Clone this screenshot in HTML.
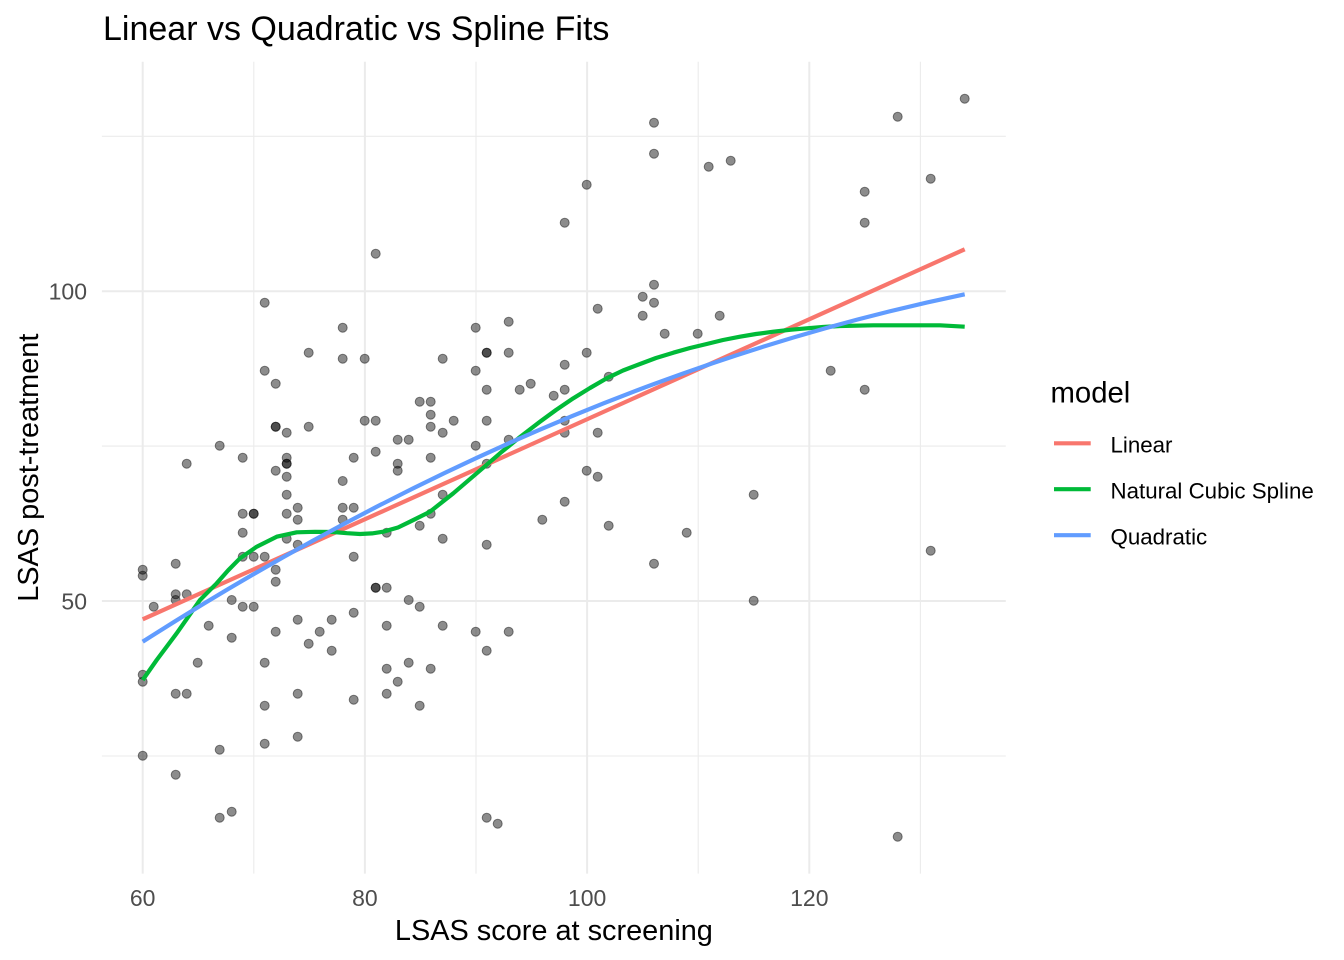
<!DOCTYPE html>
<html>
<head>
<meta charset="utf-8">
<style>
html,body{margin:0;padding:0;background:#fff;}
svg{display:block;}
text{font-family:"Liberation Sans",Arial,sans-serif;}
</style>
</head>
<body>
<svg width="1344" height="960" viewBox="0 0 1344 960" xmlns="http://www.w3.org/2000/svg">
<rect width="1344" height="960" fill="#fff"/>
<g stroke="#ebebeb" stroke-width="1.1">
<line x1="101.9" x2="1005.8" y1="136.3" y2="136.3"/>
<line x1="101.9" x2="1005.8" y1="446.1" y2="446.1"/>
<line x1="101.9" x2="1005.8" y1="756" y2="756"/>
<line y1="61.7" y2="873.6" x1="253.8" x2="253.8"/>
<line y1="61.7" y2="873.6" x1="476" x2="476"/>
<line y1="61.7" y2="873.6" x1="698.2" x2="698.2"/>
<line y1="61.7" y2="873.6" x1="920.4" x2="920.4"/>
</g>
<g stroke="#ebebeb" stroke-width="2">
<line x1="101.9" x2="1005.8" y1="291.2" y2="291.2"/>
<line x1="101.9" x2="1005.8" y1="601" y2="601"/>
<line y1="61.7" y2="873.6" x1="142.7" x2="142.7"/>
<line y1="61.7" y2="873.6" x1="364.9" x2="364.9"/>
<line y1="61.7" y2="873.6" x1="587.1" x2="587.1"/>
<line y1="61.7" y2="873.6" x1="809.3" x2="809.3"/>
</g>
<g fill="#000" fill-opacity="0.45" stroke="#000" stroke-opacity="0.45" stroke-width="1">
<circle cx="375.7" cy="253.7" r="4.5"/>
<circle cx="264.7" cy="302.7" r="4.5"/>
<circle cx="342.7" cy="327.7" r="4.5"/>
<circle cx="308.7" cy="352.7" r="4.5"/>
<circle cx="342.7" cy="358.7" r="4.5"/>
<circle cx="364.7" cy="358.7" r="4.5"/>
<circle cx="442.7" cy="358.7" r="4.5"/>
<circle cx="475.7" cy="327.7" r="4.5"/>
<circle cx="508.7" cy="321.7" r="4.5"/>
<circle cx="486.7" cy="352.7" r="4.5"/>
<circle cx="486.7" cy="352.7" r="4.5"/>
<circle cx="508.7" cy="352.7" r="4.5"/>
<circle cx="264.7" cy="370.7" r="4.5"/>
<circle cx="275.7" cy="383.7" r="4.5"/>
<circle cx="475.7" cy="370.7" r="4.5"/>
<circle cx="486.7" cy="389.7" r="4.5"/>
<circle cx="519.7" cy="389.7" r="4.5"/>
<circle cx="530.7" cy="383.7" r="4.5"/>
<circle cx="419.7" cy="401.7" r="4.5"/>
<circle cx="430.7" cy="401.7" r="4.5"/>
<circle cx="430.7" cy="414.7" r="4.5"/>
<circle cx="364.7" cy="420.7" r="4.5"/>
<circle cx="375.7" cy="420.7" r="4.5"/>
<circle cx="453.7" cy="420.7" r="4.5"/>
<circle cx="486.7" cy="420.7" r="4.5"/>
<circle cx="275.7" cy="426.7" r="4.5"/>
<circle cx="275.7" cy="426.7" r="4.5"/>
<circle cx="286.7" cy="432.7" r="4.5"/>
<circle cx="308.7" cy="426.7" r="4.5"/>
<circle cx="430.7" cy="426.7" r="4.5"/>
<circle cx="442.7" cy="432.7" r="4.5"/>
<circle cx="397.7" cy="439.7" r="4.5"/>
<circle cx="408.7" cy="439.7" r="4.5"/>
<circle cx="508.7" cy="439.7" r="4.5"/>
<circle cx="475.7" cy="445.7" r="4.5"/>
<circle cx="219.7" cy="445.7" r="4.5"/>
<circle cx="186.7" cy="463.7" r="4.5"/>
<circle cx="242.7" cy="457.7" r="4.5"/>
<circle cx="286.7" cy="457.7" r="4.5"/>
<circle cx="286.7" cy="463.7" r="4.5"/>
<circle cx="286.7" cy="463.7" r="4.5"/>
<circle cx="275.7" cy="470.7" r="4.5"/>
<circle cx="286.7" cy="476.7" r="4.5"/>
<circle cx="353.7" cy="457.7" r="4.5"/>
<circle cx="375.7" cy="451.7" r="4.5"/>
<circle cx="397.7" cy="463.7" r="4.5"/>
<circle cx="397.7" cy="470.7" r="4.5"/>
<circle cx="430.7" cy="457.7" r="4.5"/>
<circle cx="486.7" cy="463.7" r="4.5"/>
<circle cx="342.7" cy="481" r="4.5"/>
<circle cx="286.7" cy="494.7" r="4.5"/>
<circle cx="242.7" cy="513.7" r="4.5"/>
<circle cx="253.7" cy="513.7" r="4.5"/>
<circle cx="253.7" cy="513.7" r="4.5"/>
<circle cx="286.7" cy="513.7" r="4.5"/>
<circle cx="297.7" cy="507.7" r="4.5"/>
<circle cx="297.7" cy="519.7" r="4.5"/>
<circle cx="342.7" cy="507.7" r="4.5"/>
<circle cx="353.7" cy="507.7" r="4.5"/>
<circle cx="342.7" cy="519.7" r="4.5"/>
<circle cx="442.7" cy="494.7" r="4.5"/>
<circle cx="430.7" cy="513.7" r="4.5"/>
<circle cx="419.7" cy="525.7" r="4.5"/>
<circle cx="386.7" cy="532.7" r="4.5"/>
<circle cx="442.7" cy="538.7" r="4.5"/>
<circle cx="486.7" cy="544.7" r="4.5"/>
<circle cx="542.3" cy="519.7" r="4.5"/>
<circle cx="242.7" cy="532.7" r="4.5"/>
<circle cx="286.7" cy="538.7" r="4.5"/>
<circle cx="297.7" cy="544.7" r="4.5"/>
<circle cx="242.7" cy="556.7" r="4.5"/>
<circle cx="253.7" cy="556.7" r="4.5"/>
<circle cx="264.7" cy="556.7" r="4.5"/>
<circle cx="275.7" cy="569.7" r="4.5"/>
<circle cx="275.7" cy="581.7" r="4.5"/>
<circle cx="353.7" cy="556.7" r="4.5"/>
<circle cx="142.7" cy="569.7" r="4.5"/>
<circle cx="142.7" cy="575.7" r="4.5"/>
<circle cx="175.7" cy="563.7" r="4.5"/>
<circle cx="175.7" cy="594.3" r="4.5"/>
<circle cx="175.7" cy="600" r="4.5"/>
<circle cx="186.7" cy="594.3" r="4.5"/>
<circle cx="153.7" cy="606.7" r="4.5"/>
<circle cx="231.7" cy="600" r="4.5"/>
<circle cx="242.7" cy="606.7" r="4.5"/>
<circle cx="253.7" cy="606.7" r="4.5"/>
<circle cx="375.7" cy="587.7" r="4.5"/>
<circle cx="375.7" cy="587.7" r="4.5"/>
<circle cx="386.7" cy="587.7" r="4.5"/>
<circle cx="208.7" cy="625.7" r="4.5"/>
<circle cx="231.7" cy="637.7" r="4.5"/>
<circle cx="297.7" cy="619.7" r="4.5"/>
<circle cx="275.7" cy="631.7" r="4.5"/>
<circle cx="319.7" cy="631.7" r="4.5"/>
<circle cx="308.7" cy="643.7" r="4.5"/>
<circle cx="331.7" cy="619.7" r="4.5"/>
<circle cx="331.7" cy="650.7" r="4.5"/>
<circle cx="353.7" cy="612.7" r="4.5"/>
<circle cx="386.7" cy="625.7" r="4.5"/>
<circle cx="408.7" cy="600" r="4.5"/>
<circle cx="419.7" cy="606.7" r="4.5"/>
<circle cx="442.7" cy="625.7" r="4.5"/>
<circle cx="475.7" cy="631.7" r="4.5"/>
<circle cx="508.7" cy="631.7" r="4.5"/>
<circle cx="486.7" cy="650.7" r="4.5"/>
<circle cx="197.7" cy="662.7" r="4.5"/>
<circle cx="264.7" cy="662.7" r="4.5"/>
<circle cx="386.7" cy="668.7" r="4.5"/>
<circle cx="408.7" cy="662.7" r="4.5"/>
<circle cx="430.7" cy="668.7" r="4.5"/>
<circle cx="397.7" cy="681.7" r="4.5"/>
<circle cx="142.7" cy="674.7" r="4.5"/>
<circle cx="142.7" cy="681.7" r="4.5"/>
<circle cx="175.7" cy="693.7" r="4.5"/>
<circle cx="186.7" cy="693.7" r="4.5"/>
<circle cx="297.7" cy="693.7" r="4.5"/>
<circle cx="386.7" cy="693.7" r="4.5"/>
<circle cx="353.7" cy="699.7" r="4.5"/>
<circle cx="264.7" cy="705.7" r="4.5"/>
<circle cx="419.7" cy="705.7" r="4.5"/>
<circle cx="264.7" cy="743.7" r="4.5"/>
<circle cx="297.7" cy="736.7" r="4.5"/>
<circle cx="219.7" cy="749.7" r="4.5"/>
<circle cx="142.7" cy="755.7" r="4.5"/>
<circle cx="175.7" cy="774.7" r="4.5"/>
<circle cx="219.7" cy="817.7" r="4.5"/>
<circle cx="231.7" cy="811.7" r="4.5"/>
<circle cx="486.7" cy="817.7" r="4.5"/>
<circle cx="497.7" cy="823.7" r="4.5"/>
<circle cx="964.7" cy="98.7" r="4.5"/>
<circle cx="897.7" cy="116.7" r="4.5"/>
<circle cx="654" cy="122.7" r="4.5"/>
<circle cx="654" cy="153.7" r="4.5"/>
<circle cx="708.7" cy="166.7" r="4.5"/>
<circle cx="730.7" cy="160.7" r="4.5"/>
<circle cx="586.7" cy="184.7" r="4.5"/>
<circle cx="564.7" cy="222.7" r="4.5"/>
<circle cx="864.7" cy="191.7" r="4.5"/>
<circle cx="864.7" cy="222.7" r="4.5"/>
<circle cx="930.7" cy="178.7" r="4.5"/>
<circle cx="654" cy="284.7" r="4.5"/>
<circle cx="642.7" cy="296.7" r="4.5"/>
<circle cx="654" cy="302.7" r="4.5"/>
<circle cx="597.7" cy="308.7" r="4.5"/>
<circle cx="642.7" cy="315.7" r="4.5"/>
<circle cx="719.7" cy="315.7" r="4.5"/>
<circle cx="664.7" cy="333.7" r="4.5"/>
<circle cx="697.7" cy="333.7" r="4.5"/>
<circle cx="586.7" cy="352.7" r="4.5"/>
<circle cx="564.7" cy="364.7" r="4.5"/>
<circle cx="608.7" cy="376.7" r="4.5"/>
<circle cx="553.7" cy="395.7" r="4.5"/>
<circle cx="564.7" cy="389.7" r="4.5"/>
<circle cx="830.7" cy="370.7" r="4.5"/>
<circle cx="864.7" cy="389.7" r="4.5"/>
<circle cx="564.7" cy="420.7" r="4.5"/>
<circle cx="564.7" cy="432.7" r="4.5"/>
<circle cx="597.7" cy="432.7" r="4.5"/>
<circle cx="586.7" cy="470.7" r="4.5"/>
<circle cx="597.7" cy="476.7" r="4.5"/>
<circle cx="564.7" cy="501.7" r="4.5"/>
<circle cx="608.7" cy="525.7" r="4.5"/>
<circle cx="686.7" cy="532.7" r="4.5"/>
<circle cx="654" cy="563.7" r="4.5"/>
<circle cx="753.7" cy="494.7" r="4.5"/>
<circle cx="753.7" cy="600.7" r="4.5"/>
<circle cx="930.7" cy="550.7" r="4.5"/>
<circle cx="897.7" cy="836.7" r="4.5"/>
</g>
<g fill="none" stroke-width="4.2" stroke-linejoin="round" stroke-linecap="butt">
<line x1="142.7" y1="619.3" x2="964.7" y2="249.3" stroke="#F8766D"/>
<polyline stroke="#00BA38" points="142.7,680 156.7,660 176.7,633.3 200,600 216.7,583.3 228,570.5 240,558.3 256.7,546.7 276.7,536.7 296.7,532.3 315,531.8 333.3,532 347,533.2 360,534 372,533.4 383.3,531.7 398,527.5 410,521.7 430,511.7 453.3,493.3 476.7,473.3 500,453.3 520,437 540,421.7 556,410 573.3,398.3 590,388 606.7,378.3 623,370.5 640,364 656,358 673.3,352.7 690,348 706.7,344 723,340 740,336.7 756,334 773.3,331.7 790,329.8 806.7,328.3 823,327 840,326 873.3,325.3 940,325.3 964.7,326.7"/>
<path d="M142.7,641.7 Q553.7,379.5 964.7,294.3" stroke="#619CFF"/>
</g>
<g font-size="23" fill="#4d4d4d" text-anchor="middle">
<text x="142.7" y="906">60</text>
<text x="364.9" y="906">80</text>
<text x="587.1" y="906">100</text>
<text x="809.3" y="906">120</text>
</g>
<g font-size="23" fill="#4d4d4d" text-anchor="end">
<text x="87" y="299.5">100</text>
<text x="87" y="609.3">50</text>
</g>
<text x="553.9" y="940" font-size="28.9" fill="#000" text-anchor="middle">LSAS score at screening</text>
<text transform="translate(38,467.7) rotate(-90)" font-size="28.9" fill="#000" text-anchor="middle">LSAS post-treatment</text>
<text x="103" y="40" font-size="34" fill="#000">Linear vs Quadratic vs Spline Fits</text>
<text x="1050.5" y="402.7" font-size="29.3" fill="#000">model</text>
<g stroke-width="4.2">
<line x1="1054" x2="1090.7" y1="443.3" y2="443.3" stroke="#F8766D"/>
<line x1="1054" x2="1090.7" y1="489.2" y2="489.2" stroke="#00BA38"/>
<line x1="1054" x2="1090.7" y1="535.2" y2="535.2" stroke="#619CFF"/>
</g>
<g font-size="22.3" fill="#000">
<text x="1110.5" y="452.3">Linear</text>
<text x="1110.5" y="498.3">Natural Cubic Spline</text>
<text x="1110.5" y="544.3">Quadratic</text>
</g>
</svg>
</body>
</html>
